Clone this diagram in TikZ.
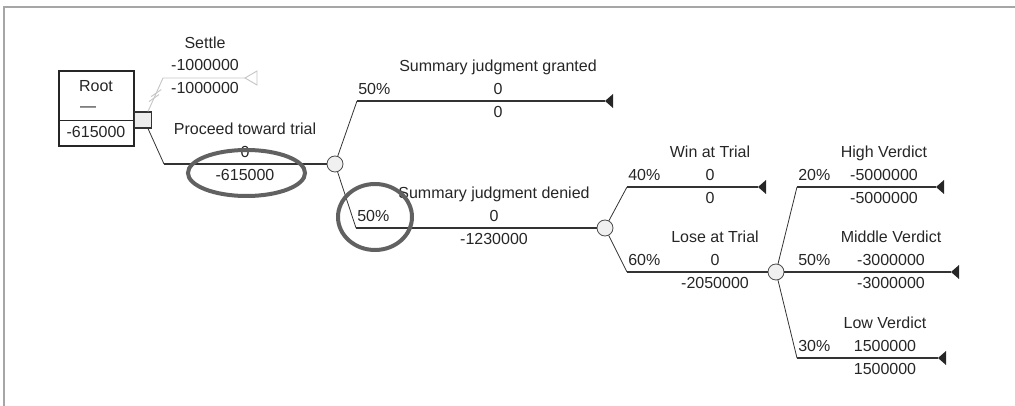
\documentclass[tikz,border=0pt]{standalone}
\usepackage{fontspec}
\setmainfont{Liberation Sans}
\begin{document}
\begin{tikzpicture}[x=0.75pt,y=-0.75pt,
    lbl/.style={inner sep=0pt,text height=8.6pt,text depth=0pt,
      font=\fontsize{12}{14}\selectfont,text=black!85},
    prob/.style={lbl,anchor=west},
    branch/.style={draw=black!80,line width=1pt},
    slant/.style={draw=black!80,line width=0.6pt},
    pruned/.style={draw=gray!45,line width=0.7pt},
    chance/.style={circle,draw=black!70,fill=gray!12,line width=0.6pt,
      minimum size=12pt,inner sep=0pt},
    decision/.style={rectangle,draw=black!80,fill=gray!15,line width=0.8pt,
      minimum width=12.75pt,minimum height=12pt,inner sep=0pt},
    ring/.style={draw=black!62,line width=3pt}]
  \useasboundingbox (0,0) rectangle (1015,406);
  \draw[gray!70,line width=1.2pt] (4,406) -- (4,7) -- (1015,7);

  % root box
  \node[draw=black!85,line width=0.8pt,minimum width=56.25pt,minimum height=56.25pt] (root) at (96.5,108.5) {};
  \draw[black!85,line width=0.8pt] ([yshift=19.5pt]root.south west) -- ([yshift=19.5pt]root.south east);
  \node[lbl] (root-name) at (96,86) {Root};
  \node[lbl] (root-dash) at (88,106) {---};
  \node[lbl] (root-sum) at (96,132) {-615000};

  % nodes
  \node[decision] (dec) at (143,120) {};
  \coordinate (settle) at (163,78);
  \coordinate (settle-end) at (245,78);
  \coordinate (proceed) at (164,164);
  \node[chance] (c1) at (335,164) {};
  \node[chance] (c2) at (605,228) {};
  \node[chance] (c3) at (776,272) {};

  \coordinate (granted) at (357,101);
  \coordinate (denied) at (356,228);
  \coordinate (win) at (627,187);
  \coordinate (lose) at (627,272);
  \coordinate (high) at (797,187);
  \coordinate (middle) at (797,272);
  \coordinate (low) at (797,358);

  \coordinate (granted-end) at (605,101);
  \coordinate (win-end) at (758,187);
  \coordinate (high-end) at (936,187);
  \coordinate (middle-end) at (951,272);
  \coordinate (low-end) at (938,358);

  % settle (pruned)
  \draw[pruned] ([xshift=3.75pt]dec.north) -- (settle) -- (settle-end);
  \path ([xshift=3.75pt]dec.north) -- (settle) coordinate[pos=0.40] (h1) coordinate[pos=0.55] (h2);
  \draw[pruned] (h1) ++(-5,3.5) -- ++(10,-7);
  \draw[pruned] (h2) ++(-5,3.5) -- ++(10,-7);
  \draw[pruned,fill=white] (settle-end) -- ++(12,-7) -- ++(0,14) -- cycle;
  \node[lbl] (settle-name) at (205,43) {Settle};
  \node[lbl] (settle-val) at (205,65) {-1000000};
  \node[lbl] (settle-sum) at (205,88) {-1000000};

  % proceed
  \draw[slant] ([xshift=3.75pt]dec.south) -- (proceed);
  \draw[branch] (proceed) -- (c1);
  \node[lbl] (proceed-name) at (245,129) {Proceed toward trial};
  \node[lbl] (proceed-val) at (245,152) {0};
  \node[lbl] (proceed-sum) at (245,175) {-615000};

  % branches
  \draw[slant] (c1) -- (granted);
  \draw[branch] (granted) -- (granted-end);
  \draw[slant] (c1) -- (denied);
  \draw[branch] (denied) -- (c2);
  \draw[slant] (c2) -- (win);
  \draw[branch] (win) -- (win-end);
  \draw[slant] (c2) -- (lose);
  \draw[branch] (lose) -- (c3);
  \draw[slant] (c3) -- (high);
  \draw[branch] (high) -- (high-end);
  \draw[branch] (c3) -- (middle) -- (middle-end);
  \draw[slant] (c3) -- (low);
  \draw[branch] (low) -- (low-end);

  \foreach \e in {granted-end,win-end,high-end,middle-end,low-end}
    \fill[black!85] (\e) -- ++(8,-7) -- ++(0,14) -- cycle;

  \foreach \nm/\cx/\ly/\tx/\p/\t/\v/\s in {
      granted/357/101/498/50/Summary judgment granted/0/0,
      denied/356/228/494/50/Summary judgment denied/0/-1230000,
      win/627/187/710/40/Win at Trial/0/0,
      lose/627/272/715/60/Lose at Trial/0/-2050000,
      high/797/187/884/20/High Verdict/-5000000/-5000000,
      middle/797/272/891/50/Middle Verdict/-3000000/-3000000,
      low/797/358/885/30/Low Verdict/1500000/1500000}
  {
    \node[prob] (\nm-p) at (\cx+1,\ly-12) {\p\%};
    \node[lbl] (\nm-name) at (\tx,\ly-35) {\t};
    \node[lbl] (\nm-val) at (\tx,\ly-12) {\v};
    \node[lbl] (\nm-sum) at (\tx,\ly+11) {\s};
  };

  % highlight marks
  \draw[ring] (246.5,173) ellipse [x radius=43.9pt,y radius=17.25pt];
  \draw[ring] (375,217) ellipse [x radius=27.75pt,y radius=24.75pt];
\end{tikzpicture}
\end{document}
